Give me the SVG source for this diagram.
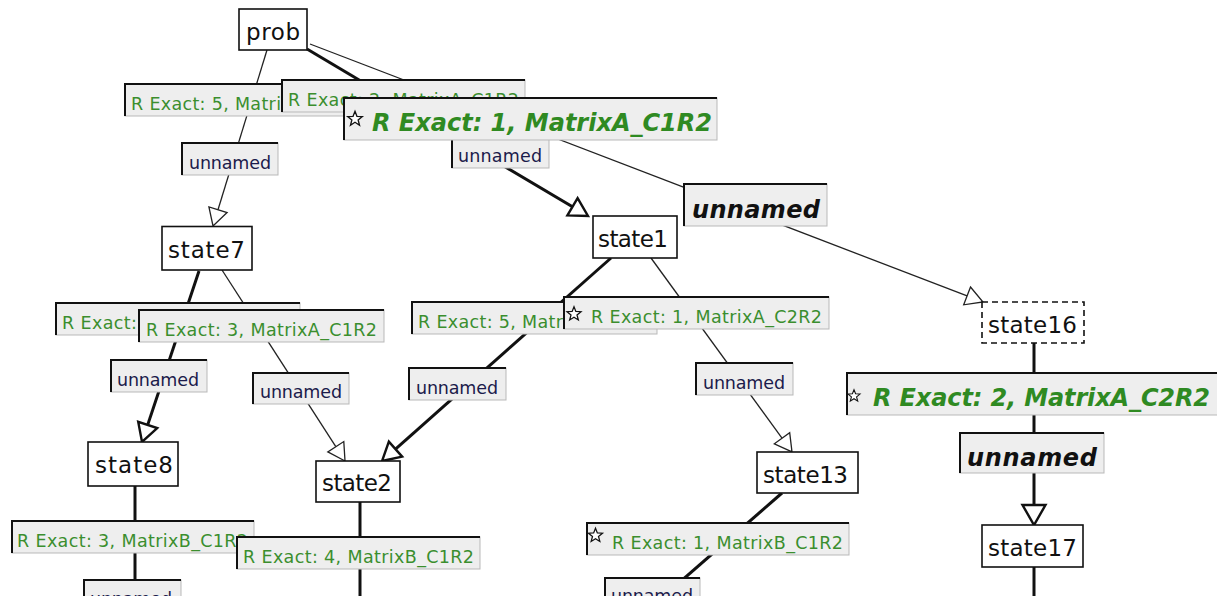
<svg xmlns="http://www.w3.org/2000/svg" xmlns:xlink="http://www.w3.org/1999/xlink" width="1217" height="596" viewBox="0 0 1217 596">
<style>
.node rect{fill:#fff;stroke:#111;stroke-width:1.6}
.node rect.dash{stroke-dasharray:6 4}
.node text{font-family:"DejaVu Sans",sans-serif;font-size:23px;fill:#111}
.lb rect{fill:#eeeeee;stroke:#b9b9b9;stroke-width:1}
.lb path{fill:none;stroke:#111;stroke-width:2}
.lb text{font-family:"DejaVu Sans",sans-serif;font-size:17.5px}
.lb text.g{fill:#3b8e2e}
.lb text.u{fill:#1b1b4b}
.lb text.big{font-size:24px;font-weight:bold;font-style:italic}
.lb text.bg{fill:#2f8a22}
.lb text.bu{fill:#111}
.thin{stroke:#222;stroke-width:1.3;fill:none}
.thick{stroke:#111;stroke-width:3;fill:none}
.star{fill:#fff;stroke:#111;stroke-width:1.2}
</style>
<defs>
<marker id="aThin" markerUnits="userSpaceOnUse" markerWidth="20" markerHeight="22" refX="0" refY="0" orient="auto" overflow="visible">
<path d="M0,-9.5 L17,0 L0,9.5 Z" fill="#fff" stroke="#222" stroke-width="1.3"/>
</marker>
<marker id="aThick" markerUnits="userSpaceOnUse" markerWidth="20" markerHeight="22" refX="0" refY="0" orient="auto" overflow="visible">
<path d="M0,-10 L18,0 L0,10 Z" fill="#fff" stroke="#111" stroke-width="2.4"/>
</marker>
<marker id="aBig" markerUnits="userSpaceOnUse" markerWidth="24" markerHeight="26" refX="0" refY="0" orient="auto" overflow="visible">
<path d="M0,-11.5 L20,0 L0,11.5 Z" fill="#fff" stroke="#111" stroke-width="2.4"/>
</marker>
<path id="star" d="M0,-7 L1.76,-2.43 L6.66,-2.16 L2.85,0.93 L4.12,5.66 L0,3 L-4.12,5.66 L-2.85,0.93 L-6.66,-2.16 L-1.76,-2.43 Z"/>
</defs>
<rect x="0" y="0" width="1217" height="596" fill="#fff"/>

<g id="connectors">
<line class="thin" x1="267" y1="50" x2="218" y2="209.75" marker-end="url(#aThin)"/>
<line class="thick" x1="307" y1="49" x2="572.5" y2="206.8" marker-end="url(#aThick)"/>
<line class="thin" x1="310" y1="44" x2="967.1" y2="295.9" marker-end="url(#aThin)"/>
<line class="thick" x1="199" y1="271" x2="147.7" y2="424.9" marker-end="url(#aThick)"/>
<line class="thin" x1="222" y1="270" x2="335.8" y2="446.7" marker-end="url(#aThin)"/>
<line class="thick" x1="611" y1="258" x2="395.5" y2="449.1" marker-end="url(#aThick)"/>
<line class="thin" x1="651" y1="258" x2="782" y2="438.2" marker-end="url(#aThin)"/>
<line class="thick" x1="1034" y1="343" x2="1034" y2="505" marker-end="url(#aBig)"/>
<line class="thick" x1="1034" y1="567" x2="1034" y2="600"/>
<line class="thick" x1="135" y1="486" x2="135" y2="600"/>
<line class="thick" x1="360" y1="502" x2="360" y2="600"/>
<line class="thick" x1="782" y1="493" x2="664" y2="596"/>
</g>

<g id="prob" class="node"><rect x="239" y="9" width="68" height="41"/><text x="246" y="40" textLength="54" lengthAdjust="spacing">prob</text></g>
<g id="state7" class="node"><rect x="162" y="226.5" width="90" height="43.5"/><text x="168" y="258" textLength="77" lengthAdjust="spacing">state7</text></g>
<g id="state1" class="node"><rect x="593" y="216" width="84" height="42"/><text x="598" y="247" textLength="70" lengthAdjust="spacing">state1</text></g>
<g id="state16" class="node"><rect class="dash" x="982" y="302" width="102" height="41"/><text x="988" y="333" textLength="89" lengthAdjust="spacing">state16</text></g>
<g id="state8" class="node"><rect x="88" y="442" width="90" height="44"/><text x="95" y="473" textLength="78" lengthAdjust="spacing">state8</text></g>
<g id="state2" class="node"><rect x="316" y="461" width="84" height="41"/><text x="322" y="491" textLength="70" lengthAdjust="spacing">state2</text></g>
<g id="state13" class="node"><rect x="757" y="452" width="101" height="41"/><text x="763" y="483" textLength="85" lengthAdjust="spacing">state13</text></g>
<g id="state17" class="node"><rect x="982" y="525" width="101" height="42"/><text x="988" y="556" textLength="89" lengthAdjust="spacing">state17</text></g>

<g id="lbl-p7-r" class="lb"><rect x="125" y="84" width="245" height="32"/><path d="M125,116 V84 H370"/><text class="g" x="131" y="110" textLength="150" lengthAdjust="spacing">R Exact: 5, Matri</text></g>
<g id="lbl-p1-r" class="lb"><rect x="282" y="80" width="243" height="32"/><path d="M282,112 V80 H525"/><text class="g" x="288" y="106" textLength="231" lengthAdjust="spacing">R Exact: 2, MatrixA_C1R2</text></g>
<g id="lbl-p7-u" class="lb"><rect x="182" y="143" width="96" height="32"/><path d="M182,175 V143 H278"/><text class="u" x="189" y="169" textLength="82" lengthAdjust="spacing">unnamed</text></g>
<g id="lbl-p1-u" class="lb"><rect x="452" y="136" width="97" height="32"/><path d="M452,168 V136 H549"/><text class="u" x="458" y="162" textLength="84" lengthAdjust="spacing">unnamed</text></g>
<g id="lbl-p16-r" class="lb"><rect x="344" y="98" width="373" height="42"/><path d="M344,140 V98 H717"/><use xlink:href="#star" class="star" transform="translate(355,119) scale(1.1)"/><text class="big bg" x="372" y="131" textLength="340" lengthAdjust="spacing">R Exact: 1, MatrixA_C1R2</text></g>
<g id="lbl-p16-u" class="lb"><rect x="684" y="184" width="143" height="42"/><path d="M684,226 V184 H827"/><text class="big bu" x="692" y="218" textLength="128" lengthAdjust="spacing">unnamed</text></g>

<g id="lbl-78-r" class="lb"><rect x="56" y="303" width="244" height="32"/><path d="M56,335 V303 H300"/><text class="g" x="62" y="329" textLength="75" lengthAdjust="spacing">R Exact:</text></g>
<g id="lbl-72-r" class="lb"><rect x="139" y="310" width="245" height="32"/><path d="M139,342 V310 H384"/><text class="g" x="146" y="336" textLength="231" lengthAdjust="spacing">R Exact: 3, MatrixA_C1R2</text></g>
<g id="lbl-78-u" class="lb"><rect x="111" y="360" width="96" height="32"/><path d="M111,392 V360 H207"/><text class="u" x="117" y="386" textLength="82" lengthAdjust="spacing">unnamed</text></g>
<g id="lbl-72-u" class="lb"><rect x="253" y="373" width="96" height="31"/><path d="M253,404 V373 H349"/><text class="u" x="260" y="398" textLength="82" lengthAdjust="spacing">unnamed</text></g>

<g id="lbl-12-r" class="lb"><rect x="412" y="302" width="245" height="32"/><path d="M412,334 V302 H657"/><text class="g" x="418" y="328" textLength="145" lengthAdjust="spacing">R Exact: 5, Matr</text></g>
<g id="lbl-113-r" class="lb"><rect x="564" y="297" width="265" height="32"/><path d="M564,329 V297 H829"/><use xlink:href="#star" class="star" transform="translate(574,314) scale(1.05)"/><text class="g" x="591" y="323" textLength="231" lengthAdjust="spacing">R Exact: 1, MatrixA_C2R2</text></g>
<g id="lbl-12-u" class="lb"><rect x="409" y="368" width="97" height="32"/><path d="M409,400 V368 H506"/><text class="u" x="416" y="394" textLength="82" lengthAdjust="spacing">unnamed</text></g>
<g id="lbl-113-u" class="lb"><rect x="696" y="363" width="97" height="32"/><path d="M696,395 V363 H793"/><text class="u" x="703" y="389" textLength="82" lengthAdjust="spacing">unnamed</text></g>

<g id="lbl-1617-r" class="lb"><rect x="847" y="373" width="380" height="42"/><path d="M847,415 V373 H1227"/><use xlink:href="#star" class="star" transform="translate(854,396) scale(0.9)"/><text class="big bg" x="873" y="406" textLength="337" lengthAdjust="spacing">R Exact: 2, MatrixA_C2R2</text></g>
<g id="lbl-1617-u" class="lb"><rect x="960" y="433" width="144" height="40"/><path d="M960,473 V433 H1104"/><text class="big bu" x="967" y="466" textLength="130" lengthAdjust="spacing">unnamed</text></g>

<g id="lbl-8-r" class="lb"><rect x="12" y="521" width="242" height="32"/><path d="M12,553 V521 H254"/><text class="g" x="17" y="547" textLength="231" lengthAdjust="spacing">R Exact: 3, MatrixB_C1R2</text></g>
<g id="lbl-2-r" class="lb"><rect x="237" y="537" width="243" height="32"/><path d="M237,569 V537 H480"/><text class="g" x="243" y="563" textLength="231" lengthAdjust="spacing">R Exact: 4, MatrixB_C1R2</text></g>
<g id="lbl-13-r" class="lb"><rect x="587" y="523" width="262" height="32"/><path d="M587,555 V523 H849"/><use xlink:href="#star" class="star" transform="translate(595.5,535.5) scale(1.05)"/><text class="g" x="612" y="549" textLength="231" lengthAdjust="spacing">R Exact: 1, MatrixB_C1R2</text></g>
<g id="lbl-8-u" class="lb"><rect x="84" y="580" width="97" height="32"/><path d="M84,612 V580 H181"/><text class="u" x="90" y="605" textLength="82" lengthAdjust="spacing">unnamed</text></g>
<g id="lbl-13-u" class="lb"><rect x="605" y="578" width="95" height="32"/><path d="M605,610 V578 H700"/><text class="u" x="611" y="602" textLength="82" lengthAdjust="spacing">unnamed</text></g>
</svg>
